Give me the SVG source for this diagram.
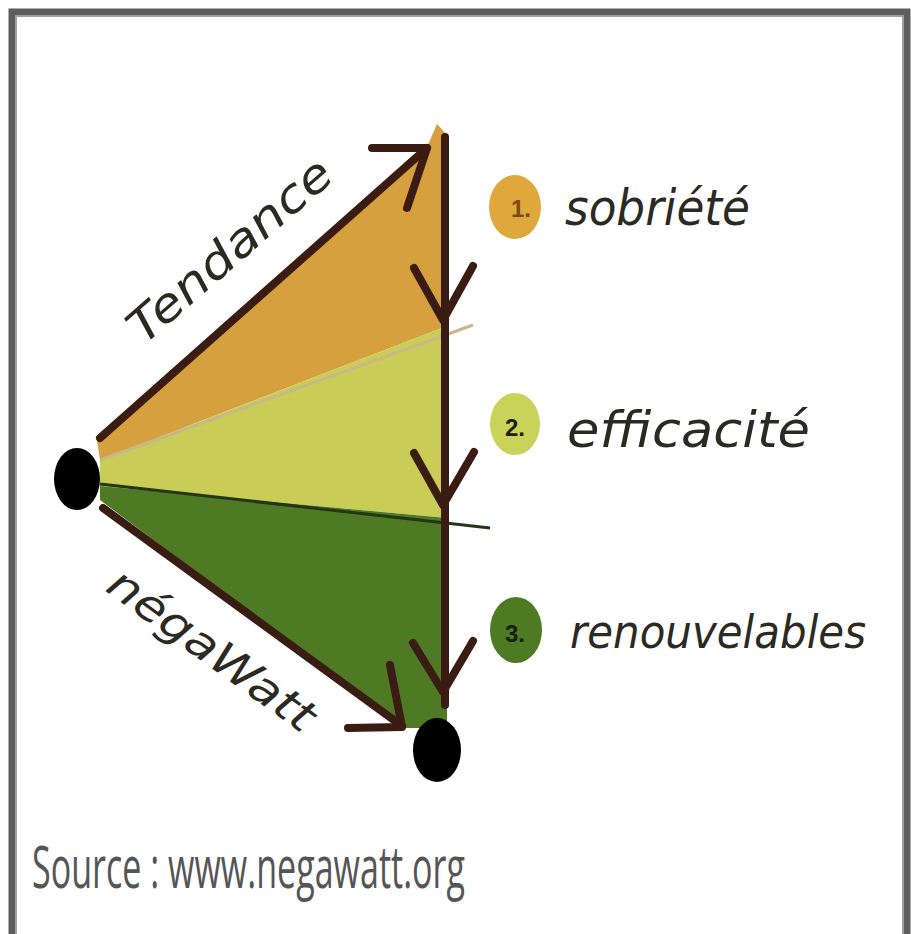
<svg xmlns="http://www.w3.org/2000/svg" width="911" height="934" viewBox="0 0 911 934">
<style>
.arrow{fill:none;stroke:#3a1c12;stroke-width:8;stroke-linecap:round;stroke-linejoin:round}
.hand{font-family:"DejaVu Sans","Liberation Sans",sans-serif;font-style:italic;fill:#2a2a22}
.num{font-family:"Liberation Sans",sans-serif;font-size:24px;font-weight:bold}
.src{font-family:"Open Sans","Liberation Sans",sans-serif;fill:#555;font-size:58px}
</style>
<rect width="911" height="934" fill="#ffffff"/>
<path d="M12 940 V12 H907 V940" fill="none" stroke="#5e5e5e" stroke-width="7"/>
<path d="M16 940 V16 H903 V940" fill="none" stroke="#a0a0a0" stroke-width="2"/>

<g id="bands">
  <polygon points="97,441 427,147 437,124 447,135 447,326 100,460" fill="#d7a03e"/>
  <polygon points="100,460 447,326 447,518 100,486" fill="#c9cd58"/>
  <polygon points="100,486 447,518 447,728 405,728 100,500" fill="#4e7a24"/>
  <line x1="100" y1="460" x2="473" y2="325" stroke="#c8b888" stroke-width="3"/>
  <line x1="100" y1="484" x2="490" y2="528" stroke="#253518" stroke-width="3"/>
</g>

<g id="connectors">
  <line class="arrow" x1="445" y1="137" x2="445" y2="705"/>
  <line class="arrow" x1="100" y1="438" x2="427" y2="148"/>
  <polyline class="arrow" points="372,148 427,148 407,208"/>
  <line class="arrow" x1="103" y1="508" x2="402" y2="726"/>
  <polyline class="arrow" points="348,728 402,727 390,665"/>
  <polyline class="arrow" points="414,268 443,320 473,266"/>
  <polyline class="arrow" points="414,453 443,505 474,452"/>
  <polyline class="arrow" points="413,643 443,692 473,641"/>
</g>

<g id="start-node"><ellipse cx="77" cy="479" rx="23" ry="31" fill="#000"/></g>
<g id="end-node"><ellipse cx="437" cy="750" rx="24" ry="32" fill="#000"/></g>

<g id="label-tendance">
  <text class="hand" x="0" y="0" font-size="46" text-anchor="middle" textLength="255" lengthAdjust="spacingAndGlyphs" transform="translate(240,262) rotate(-41)">Tendance</text>
</g>
<g id="label-negawatt">
  <text class="hand" x="0" y="0" font-size="44" text-anchor="middle" textLength="245" lengthAdjust="spacingAndGlyphs" transform="translate(203,662) rotate(36)">négaWatt</text>
</g>

<g id="step-1">
  <ellipse cx="515" cy="207" rx="26" ry="32" fill="#dfa83c"/>
  <text class="num" x="511" y="217" fill="#7a4a18">1.</text>
  <text class="hand" x="565" y="225" font-size="50" textLength="185" lengthAdjust="spacingAndGlyphs">sobriété</text>
</g>
<g id="step-2">
  <ellipse cx="515" cy="424" rx="25" ry="31" fill="#c9d35a"/>
  <text class="num" x="505" y="436" fill="#1e1e10">2.</text>
  <text class="hand" x="567" y="447" font-size="50" textLength="243" lengthAdjust="spacingAndGlyphs">efficacité</text>
</g>
<g id="step-3">
  <ellipse cx="516" cy="630" rx="26" ry="33" fill="#4d7a22"/>
  <text class="num" x="505" y="642" fill="#142008">3.</text>
  <text class="hand" x="570" y="648" font-size="46" textLength="296" lengthAdjust="spacingAndGlyphs">renouvelables</text>
</g>

<g id="source">
  <text class="src" x="32" y="888" textLength="433" lengthAdjust="spacingAndGlyphs">Source : www.negawatt.org</text>
</g>
</svg>
